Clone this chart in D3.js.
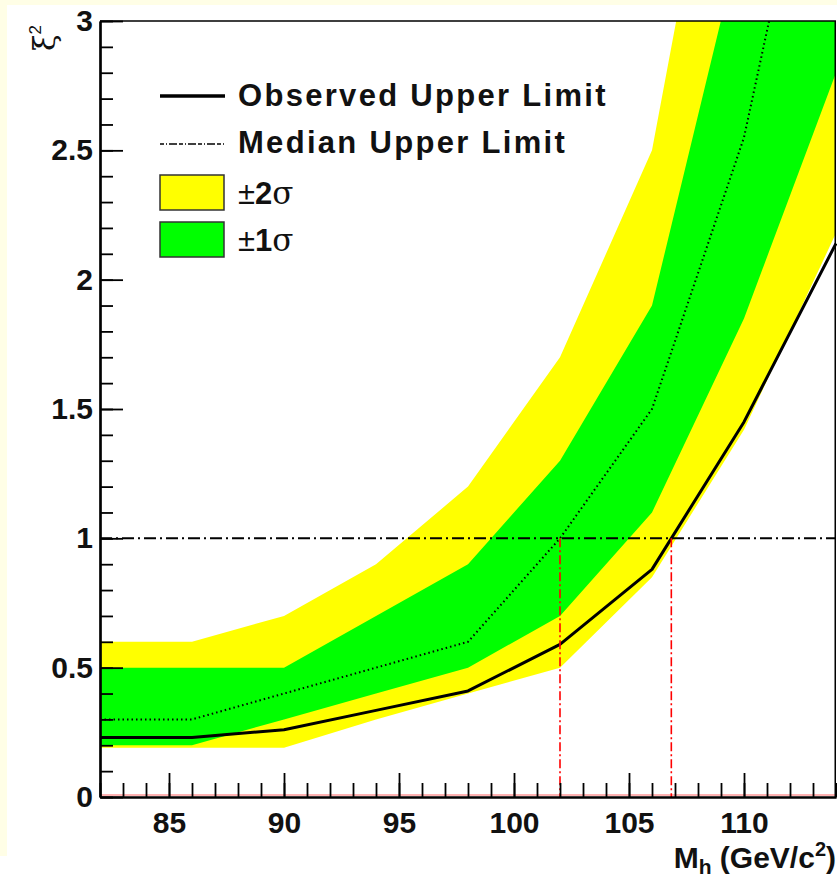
<!DOCTYPE html>
<html>
<head>
<meta charset="utf-8">
<script src="https://cdn.jsdelivr.net/npm/d3@7"></script>
</head>
<body>
<svg id="chart"></svg>
<script>
// --- data ---
const masses      = [82, 86, 90, 94, 98, 102, 106, 110, 114];
const observed    = [0.23, 0.23, 0.26, 0.335, 0.41, 0.59, 0.88, 1.45, 2.14];
const median      = [0.3, 0.3, 0.4, 0.5, 0.6, 1.0, 1.5, 2.55, 4.2];
const sigma1Low   = [0.2, 0.2, 0.3, 0.4, 0.5, 0.7, 1.1, 1.85, 2.8];
const sigma1High  = [0.5, 0.5, 0.5, 0.7, 0.9, 1.3, 1.9, 3.37, 4.8];
const sigma2Low   = [0.19, 0.19, 0.19, 0.3, 0.4, 0.5, 0.85, 1.42, 2.18];
const sigma2High  = [0.6, 0.6, 0.7, 0.9, 1.2, 1.7, 2.5, 4.4, 6.3];
const limitMasses = [102.0, 106.84]; // where median / observed cross 1
const xTicks = [85, 90, 95, 100, 105, 110];
const yTicks = [0, 0.5, 1, 1.5, 2, 2.5, 3];
const legendItems = ["Observed Upper Limit", "Median Upper Limit"];

const width = 837, height = 880;
const plotLeft = 100, plotRight = 836, plotTop = 21, plotBottom = 797;
const font = "'Liberation Sans', Arial, Helvetica, sans-serif";
const paper = "#fffee6";

d3.select("body").style("margin", "0").style("overflow", "hidden");
const svg = d3.select("#chart").attr("width", width).attr("height", height)
  .style("position", "absolute").style("left", "0px").style("top", "0px");

svg.append("rect").attr("width", width).attr("height", height).attr("fill", "#fff");

const x = d3.scaleLinear().domain([82, 114]).range([plotLeft, plotRight]);
const y = d3.scaleLinear().domain([0, 3]).range([plotBottom, plotTop]);

const rows = masses.map((m, i) => ({
  m, obs: observed[i], med: median[i],
  lo1: sigma1Low[i], hi1: sigma1High[i], lo2: sigma2Low[i], hi2: sigma2High[i]
}));

const plot = svg.append("g");

// bands
const band = (lo, hi) => d3.area().x(d => x(d.m)).y0(d => y(d[lo])).y1(d => y(d[hi]));
plot.append("path").datum(rows).attr("d", band("lo2", "hi2")).attr("fill", "#ffff00");
plot.append("path").datum(rows).attr("d", band("lo1", "hi1")).attr("fill", "#00ff00");

// median (dotted) and observed (solid)
plot.append("path").datum(rows)
  .attr("d", d3.line().x(d => x(d.m)).y(d => y(d.med)))
  .attr("fill", "none").attr("stroke", "#000")
  .attr("stroke-width", 2).attr("stroke-dasharray", "1.5,3");

plot.append("path").datum(rows)
  .attr("d", d3.line().x(d => x(d.m)).y(d => y(d.obs)))
  .attr("fill", "none").attr("stroke", "#000")
  .attr("stroke-width", 3).attr("stroke-linejoin", "round");

// whatever runs above the top of the frame is covered by the page
svg.append("rect").attr("x", 0).attr("y", 0).attr("width", width).attr("height", plotTop).attr("fill", "#fff");
svg.append("rect").attr("x", 0).attr("y", 0).attr("width", width).attr("height", 5).attr("fill", paper);
svg.append("rect").attr("x", 0).attr("y", 0).attr("width", 7).attr("height", 856).attr("fill", paper);

// reference line at 1 and the mass limits
svg.append("line")
  .attr("x1", x(82)).attr("x2", x(114)).attr("y1", y(1)).attr("y2", y(1))
  .attr("stroke", "#000").attr("stroke-width", 2).attr("stroke-dasharray", "12,4,2,4");

svg.selectAll(".limit").data(limitMasses).join("line")
  .attr("class", "limit")
  .attr("x1", d => x(d)).attr("x2", d => x(d))
  .attr("y1", y(1)).attr("y2", y(0))
  .attr("stroke", "#ff0000").attr("stroke-width", 1.6)
  .attr("stroke-dasharray", "9,3,2,3");

svg.append("line")
  .attr("x1", x(82)).attr("x2", x(114)).attr("y1", y(0) - 2).attr("y2", y(0) - 2)
  .attr("stroke", "#ff0000").attr("stroke-opacity", 0.3).attr("stroke-width", 2);

// axes with inward ticks (minor ticks, then labelled major ticks)
const styleAxis = g => {
  g.select(".domain").attr("stroke", "#000").attr("stroke-width", 2.2);
  g.selectAll(".tick line").attr("stroke", "#000").attr("stroke-width", 1.8);
  g.selectAll("text").attr("font-family", font).attr("font-size", 30)
    .attr("font-weight", "bold").attr("fill", "#111");
};

svg.append("g").attr("transform", `translate(0,${plotBottom})`)
  .call(d3.axisBottom(x).tickValues(d3.range(82, 115, 1)).tickSize(-14).tickSizeOuter(0).tickFormat(""))
  .call(styleAxis);
svg.append("g").attr("transform", `translate(0,${plotBottom})`)
  .call(d3.axisBottom(x).tickValues(xTicks).tickSize(-24).tickSizeOuter(0).tickPadding(15).tickFormat(d => d))
  .call(styleAxis);

svg.append("g").attr("transform", `translate(${plotLeft},0)`)
  .call(d3.axisLeft(y).tickValues(d3.range(0, 31, 1).map(d => d / 10)).tickSize(-13).tickSizeOuter(0).tickFormat(""))
  .call(styleAxis);
svg.append("g").attr("transform", `translate(${plotLeft},0)`)
  .call(d3.axisLeft(y).tickValues(yTicks).tickSize(-23).tickSizeOuter(0).tickPadding(7).tickFormat(d => String(d)))
  .call(styleAxis);

// top and right sides of the frame
svg.append("path")
  .attr("d", `M${plotLeft},${plotTop}H${plotRight - 0.75}V${plotBottom}`)
  .attr("fill", "none").attr("stroke", "#000").attr("stroke-width", 1.5);

// axis titles
const xTitle = svg.append("text")
  .attr("x", plotRight).attr("y", 868).attr("text-anchor", "end")
  .attr("font-family", font).attr("font-size", 30).attr("font-weight", "bold").attr("fill", "#111");
xTitle.append("tspan").text("M");
xTitle.append("tspan").attr("font-size", 21).attr("dy", 6).text("h");
xTitle.append("tspan").attr("dy", -6).text(" (GeV/c");
xTitle.append("tspan").attr("font-size", 20).attr("dy", -12).text("2");
xTitle.append("tspan").attr("dy", 12).text(")");

const yTitle = svg.append("text")
  .attr("transform", "translate(55,25) rotate(-90)")
  .attr("text-anchor", "end")
  .attr("font-family", "'DejaVu Serif', 'Liberation Serif', serif")
  .attr("font-size", 30).attr("fill", "#111");
yTitle.append("tspan").text("ξ");
yTitle.append("tspan").attr("font-family", font).attr("font-size", 17).attr("dy", -14).text("2");

// legend
const legend = svg.append("g");
const lx0 = 160, lx1 = 225, tx = 238;

legend.append("line").attr("x1", lx0).attr("x2", lx1).attr("y1", 96).attr("y2", 96)
  .attr("stroke", "#000").attr("stroke-width", 3.5);
legend.append("line").attr("x1", lx0).attr("x2", lx1).attr("y1", 144).attr("y2", 144)
  .attr("stroke", "#000").attr("stroke-width", 1.5).attr("stroke-dasharray", "4,2,1,2,8,2");

legend.selectAll(".ltext").data(legendItems).join("text")
  .attr("class", "ltext")
  .attr("x", tx).attr("y", (d, i) => 106 + i * 47)
  .attr("font-family", font).attr("font-size", 31).attr("font-weight", "bold")
  .attr("letter-spacing", 2.3).attr("fill", "#111")
  .text(d => d);

const boxes = [{ fill: "#ffff00", y: 175, n: "2" }, { fill: "#00ff00", y: 222, n: "1" }];
boxes.forEach(b => {
  legend.append("rect").attr("x", lx0).attr("y", b.y).attr("width", 64).attr("height", 35)
    .attr("fill", b.fill).attr("stroke", "#333").attr("stroke-width", 1.5);
  const t = legend.append("text").attr("x", tx).attr("y", b.y + 29)
    .attr("font-size", 31).attr("fill", "#111");
  t.append("tspan").attr("font-family", font).text("±");
  t.append("tspan").attr("font-family", font).attr("font-weight", "bold").text(b.n);
  t.append("tspan").attr("font-family", "'DejaVu Serif', 'Liberation Serif', serif").text("σ");
});
</script>
</body>
</html>
